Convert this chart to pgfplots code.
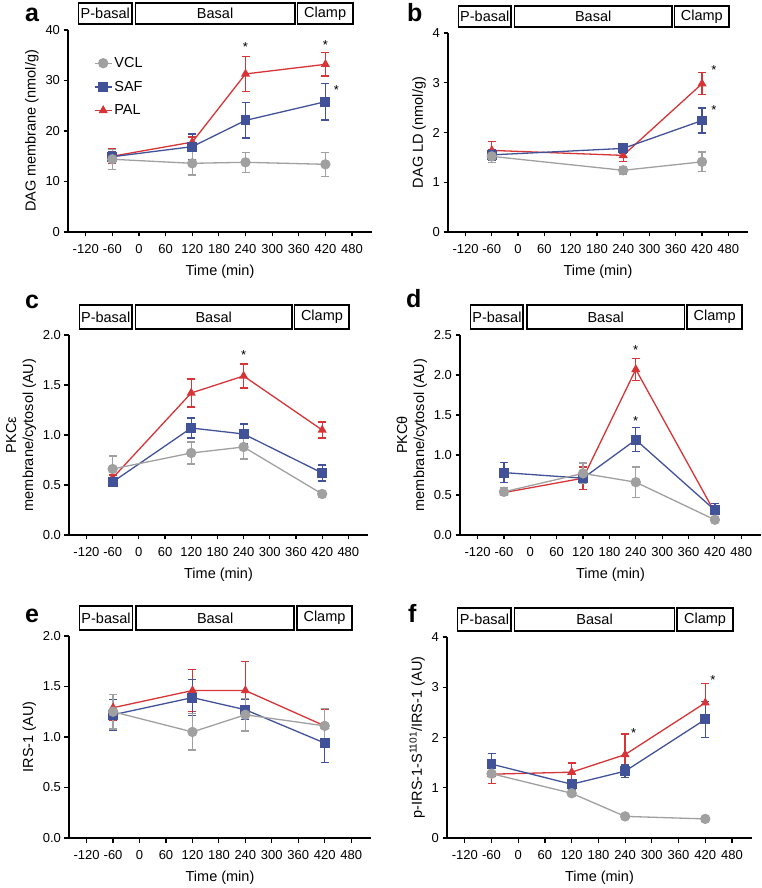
\documentclass[border=0pt]{standalone}
\usepackage{fontspec}
\setmainfont{Liberation Sans}
\usepackage{pgfplots}
\pgfplotsset{compat=1.18}
\definecolor{cgray}{RGB}{160,160,160}
\definecolor{cblue}{RGB}{66,82,152}
\definecolor{cred}{RGB}{214,52,54}
\pgfplotsset{
  panel/.style={scale only axis, xmin=-160, xmax=525, ymin=0,
    axis lines=left, axis line style={-, line width=1.3pt},
    xtick={-120,-60,...,480}, tick align=outside, major tick length=4.5pt,
    tick style={line width=1.2pt, black},
    xlabel={Time (min)}, clip=false,
    tick label style={font=\fontsize{13}{15}\selectfont},
    xticklabel style={yshift=-4pt},
    xlabel style={yshift=-5pt},
    label style={font=\fontsize{14.5}{17}\selectfont},
    /pgf/number format/assume math mode=true},
  dec/.style={yticklabel style={/pgf/number format/.cd, fixed, fixed zerofill, precision=1}},
  ser/.style={color=#1, line width=1.3pt,
    error bars/.cd, y dir=both, y explicit,
    error bar style={line width=1.3pt, #1},
    error mark options={rotate=90, mark size=4pt, line width=1.3pt, #1}},
  vcl/.style={mark=*, mark size=4.5pt, mark options={solid, fill=cgray, draw=cgray}, ser=cgray},
  saf/.style={mark=square*, mark size=4.3pt, mark options={solid, fill=cblue, draw=cblue}, ser=cblue},
  pal/.style={mark=triangle*, mark size=4pt, mark options={solid, fill=cred, draw=cred}, ser=cred},
}
\newcommand{\phases}[2]{%
  \draw[line width=1.6pt] ([yshift=6pt]axis cs:-136,#1) rectangle ([yshift=6pt+#2]axis cs:-16,#1);
  \draw[line width=1.6pt] ([yshift=6pt]axis cs:-8,#1) rectangle ([yshift=6pt+#2]axis cs:351,#1);
  \draw[line width=1.6pt] ([yshift=6pt]axis cs:357,#1) rectangle ([yshift=6pt+#2]axis cs:482,#1);
  \node[font=\fontsize{14.5}{17}\selectfont] at ([yshift=6pt+#2/2]axis cs:-76,#1) {P-basal};
  \node[font=\fontsize{14.5}{17}\selectfont] at ([yshift=6pt+#2/2]axis cs:171.5,#1) {Basal};
  \node[font=\fontsize{14.5}{17}\selectfont] at ([yshift=6pt+#2/2]axis cs:419.5,#1) {Clamp};
}
\newcommand{\sig}[2]{\node[font=\fontsize{13}{13}\selectfont, inner sep=0pt] at (axis cs:#1,#2) {*};}
\begin{document}
\begin{tikzpicture}
\useasboundingbox (0,0) rectangle (762pt,888pt);
\tikzset{lab/.style={anchor=base west, font=\bfseries\fontsize{25}{25}\selectfont, inner sep=0pt}}
\node[lab] at (25pt,866pt) {a};
\node[lab] at (407pt,866pt) {b};
\node[lab] at (25pt,579pt) {c};
\node[lab] at (406pt,580pt) {d};
\node[lab] at (25pt,265pt) {e};
\node[lab] at (408pt,265pt) {f};

% ---- a ----
\begin{axis}[panel, at={(68pt,656pt)}, anchor=south west, width=304pt, height=202pt,
  ymax=40, ytick={0,10,...,40}, ylabel={DAG membrane (nmol/g)},
  legend style={at={(0.075,0.885)}, anchor=north west, draw=none, fill=none,
    font=\fontsize{14.5}{17}\selectfont, row sep=8pt}, legend cell align=left, reverse legend]
\addplot[pal] table[x index=0, y index=1, y error index=2] {
-60 15.0 1.5
120 17.8 1.0
240 31.3 3.5
420 33.2 2.3
};
\addlegendentry{PAL}
\addplot[saf] table[x index=0, y index=1, y error index=2] {
-60 14.9 1.0
120 16.9 2.5
240 22.1 3.5
420 25.8 3.6
};
\addlegendentry{SAF}
\addplot[vcl] table[x index=0, y index=1, y error index=2] {
-60 14.4 2.0
120 13.6 2.3
240 13.8 2.0
420 13.4 2.4
};
\addlegendentry{VCL}
\sig{240}{36.7}\sig{420}{37.0}\sig{445}{28.1}
\phases{40}{21pt}
\end{axis}

% ---- b ----
\begin{axis}[panel, at={(448pt,656pt)}, anchor=south west, width=300pt, height=199pt,
  ymax=4, ytick={0,1,...,4}, ylabel={DAG LD (nmol/g)}]
\addplot[pal] table[x index=0, y index=1, y error index=2] {
-60 1.64 0.18
240 1.54 0.12
420 2.98 0.22
};
\addplot[saf] table[x index=0, y index=1, y error index=2] {
-60 1.55 0.10
240 1.68 0.10
420 2.24 0.25
};
\addplot[vcl] table[x index=0, y index=1, y error index=2] {
-60 1.52 0.12
240 1.24 0.08
420 1.41 0.20
};
\sig{447}{3.25}\sig{447}{2.45}
\phases{4}{21pt}
\end{axis}

% ---- c ----
\begin{axis}[panel, dec, at={(69pt,353pt)}, anchor=south west, width=299pt, height=200pt,
  ymax=2, ytick={0,0.5,...,2}, ylabel={PKCε\\membrane/cytosol (AU)}, ylabel style={align=center}]
\addplot[pal] table[x index=0, y index=1, y error index=2] {
-60 0.57 0.03
120 1.42 0.14
240 1.59 0.12
420 1.05 0.08
};
\addplot[saf] table[x index=0, y index=1, y error index=2] {
-60 0.53 0.04
120 1.07 0.10
240 1.01 0.10
420 0.62 0.08
};
\addplot[vcl] table[x index=0, y index=1, y error index=2] {
-60 0.66 0.13
120 0.82 0.11
240 0.88 0.12
420 0.41 0.03
};
\sig{240}{1.80}
\phases{2}{24pt}
\end{axis}

% ---- d ----
\begin{axis}[panel, dec, at={(460pt,353pt)}, anchor=south west, width=301pt, height=200pt,
  ymax=2.5, ytick={0,0.5,...,2.5}, ylabel={PKCθ\\membrane/cytosol (AU)}, ylabel style={align=center}]
\addplot[pal] table[x index=0, y index=1, y error index=2] {
-60 0.53 0.04
120 0.71 0.14
240 2.07 0.14
420 0.28 0.05
};
\addplot[saf] table[x index=0, y index=1, y error index=2] {
-60 0.78 0.125
120 0.71 0.06
240 1.19 0.15
420 0.31 0.08
};
\addplot[vcl] table[x index=0, y index=1, y error index=2] {
-60 0.54 0.05
120 0.77 0.13
240 0.66 0.19
420 0.19 0.02
};
\sig{240}{2.31}\sig{240}{1.42}
\phases{2.5}{24pt}
\end{axis}

% ---- e ----
\begin{axis}[panel, dec, at={(69pt,50pt)}, anchor=south west, width=302pt, height=202pt,
  ymax=2, ytick={0,0.5,...,2}, ylabel={IRS-1 (AU)}]
\addplot[pal] table[x index=0, y index=1, y error index=2] {
-60 1.29 0.13
120 1.46 0.21
240 1.46 0.29
420 1.11 0.16
};
\addplot[saf] table[x index=0, y index=1, y error index=2] {
-60 1.22 0.15
120 1.39 0.18
240 1.27 0.10
420 0.94 0.19
};
\addplot[vcl] table[x index=0, y index=1, y error index=2] {
-60 1.25 0.17
120 1.05 0.18
240 1.22 0.16
420 1.11 0.17
};
\phases{2}{24pt}
\end{axis}

% ---- f ----
\begin{axis}[panel, at={(447pt,50pt)}, anchor=south west, width=305pt, height=201pt,
  ymax=4, ytick={0,1,...,4}, ylabel={p-IRS-1-S\textsuperscript{1101}/IRS-1 (AU)}]
\addplot[pal] table[x index=0, y index=1, y error index=2] {
-60 1.27 0.18
120 1.31 0.18
240 1.66 0.41
420 2.69 0.38
};
\addplot[saf] table[x index=0, y index=1, y error index=2] {
-60 1.47 0.21
120 1.07 0.10
240 1.33 0.12
420 2.36 0.36
};
\addplot[vcl] table[x index=0, y index=1, y error index=2] {
-60 1.28 0.05
120 0.89 0.06
240 0.43 0.06
420 0.38 0.05
};
\sig{259}{2.08}\sig{437}{3.15}
\phases{4}{23pt}
\end{axis}
\end{tikzpicture}
\end{document}
